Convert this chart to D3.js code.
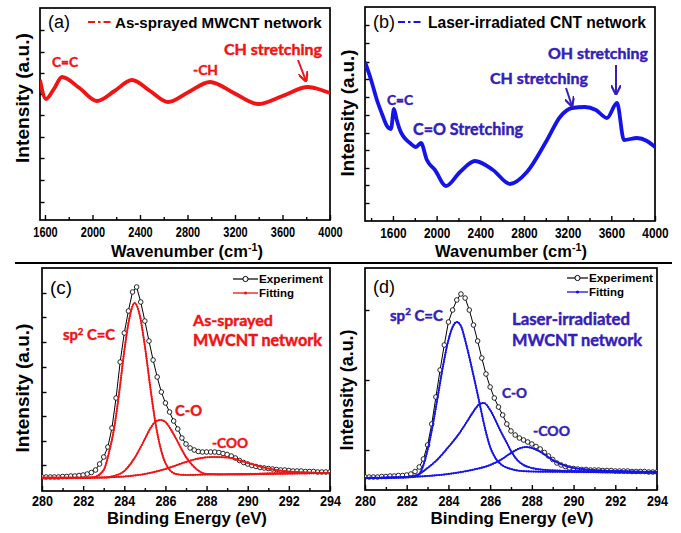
<!DOCTYPE html>
<html><head><meta charset="utf-8">
<script src="https://cdn.jsdelivr.net/npm/d3@7"></script>
<style>body{margin:0;background:#fff} svg{display:block}</style>
</head><body>
<svg id="chart" width="681" height="533"></svg>
<script>
// ---------------- DATA ----------------
// Panel (a): as-sprayed MWCNT network
const ramanA_wavenumber=[1558,1608,1675,1743,1890,2038,2185,2333,2485,2636,2810,2990,3190,3394,3600,3815,3900,3950,4000];
const ramanA_intensity =[140,121,131,143,132,119,129,140,129,118,128,138,127,116,124,133,131,129,127];
// Panel (b): laser-irradiated CNT network
const ramanB_wavenumber=[1344,1400,1453,1500,1545,1582,1609,1635,1664,1756,1811,1856,1911,1985,2086,2214,2351,2516,2672,2827,3011,3130,3240,3359,3459,3560,3652,3716,3835,3927,4000];
const ramanB_intensity =[159,141,121,107,95,92,112,101,91,78,74,78,61,51,35,49,60,51,37,49,81,104,113,114,111,103,118,81,83,80,74];
const wavenumberTicks=[1600,2000,2400,2800,3200,3600,4000];
const wavenumberTickLabels=['1600','2000','2400','2800','3200','3600','4000'];
const wavenumberMinorA=[1800,2200,2600,3000,3400,3800];
const wavenumberMinorB=[1400,1800,2200,2600,3000,3400,3800];

// XPS binding-energy grid for experiment
const xpsEnergy=[280,280.2,280.4,280.6,280.8,281,281.2,281.4,281.6,281.8,282,282.2,282.4,282.6,282.8,283,283.2,283.4,283.6,283.8,284,284.2,284.4,284.6,284.8,285,285.2,285.4,285.6,285.8,286,286.2,286.4,286.6,286.8,287,287.2,287.4,287.6,287.8,288,288.2,288.4,288.6,288.8,289,289.2,289.4,289.6,289.8,290,290.2,290.4,290.6,290.8,291,291.2,291.4,291.6,291.8,292,292.2,292.4,292.6,292.8,293,293.2,293.4,293.6,293.8,294];
const xpsC_experiment=[14,14,14,14,14,14.5,14.5,15,15,15.5,16,17,18.5,21,27,34,44,63,93,129,158,180,199,204,189,170,150,131,114,99,88,79,70,62,53,47,43,41,39.5,39,39,39,39,38.5,37.5,36.5,35,33,30.5,28.5,27,25.5,24.5,23.5,23,22.5,22,21.5,21,21,20.5,20,20,20,19.5,19.5,19.5,19,19,19,19];
const xpsD_experiment=[13,13,13,13,13.5,13.5,14,14,14.5,14.5,15,16,18.5,23,31,45,66,93,120,145,168,180,190,196,192,180,165,149,132,116,103,92,83,75,66,59,55,52,50,48,46,43.5,41,37.5,34,30.5,27,25,23.5,22,21.5,21,20.5,20.5,20,20,20,19.5,19.5,19.5,19,19,19,19,18.5,18.5,18.5,18.5,18,18,18];

// Panel (c) fitted components
const fitC_sp2_energy=[280,282,282.5,283,283.25,283.5,283.75,284,284.25,284.5,284.75,285,285.25,285.5,285.75,286,286.5,287,288,290,292,294];
const fitC_sp2_value =[13,13,13.7,21,38,62,98,140,173,188,176,145,106,70,44,28,17,16,16.5,17,18,18];
const fitC_CO_energy=[280,283,283.5,284,284.5,285,285.25,285.5,285.75,286,286.25,286.5,287,287.5,288,289,291,294];
const fitC_CO_value =[13.5,13.5,15,20,33,52,62,69,71,69,62,53,34,22,17,16.5,17,18];
const fitC_COO_energy=[280,282,283,284,285,286,287,287.5,288.3,289,290,291,292,293,294];
const fitC_COO_value =[12.7,13,13.5,14.5,17,22,29,32,34,33.5,28,22.5,19.5,18.5,18];

// Panel (d) fitted components
const fitD_sp2_energy=[280,282,282.5,282.75,283,283.25,283.5,283.75,284,284.25,284.4,284.6,284.8,285,285.25,285.5,285.75,286,286.25,286.5,287,287.5,288,290,294];
const fitD_sp2_value =[12,12.5,14,22,40,65,95,125,150,165,168,164,150,133,110,86,62,43,32,26,21,19,18.5,18,17];
const fitD_CO_energy=[280,282,282.5,283,283.5,284,284.5,285,285.25,285.5,285.7,286,286.25,286.5,286.8,287,287.3,287.6,288,288.7,290,292,294];
const fitD_CO_value =[12,13,15,22,31,43,56,72,80,86,87,80,70,59,47,39,30,25,22,20,19,18.5,18];
const fitD_COO_energy=[280,282,283,284,285,286,286.5,287,287.4,287.7,288,288.5,289,289.5,290,291,292,294];
const fitD_COO_value =[12,13,14,16,19.5,25,30,37,41.5,43,42,37,30,25,22,20,19,18];

const energyTicks=[280,282,284,286,288,290,292,294];
const energyTickLabels=['280','282','284','286','288','290','292','294'];
const energyMinor=[281,283,285,287,289,291,293];

// ---------------- DRAW ----------------
const svg=d3.select('#chart');
const SANS='"Liberation Sans", Arial, Helvetica, sans-serif';
const ANN='Lato, "Open Sans", "Noto Sans", sans-serif';
const RED='#f01414', BLUE='#1414ea', INDIGO='#3320b8';

function fitText(t,target){
  const len=t.node().getComputedTextLength();
  const fs=parseFloat(t.attr('font-size'));
  if(len>0) t.attr('font-size',(fs*target/len).toFixed(2));
  return t;
}
function addText(parent,o){
  const t=parent.append('text').attr('x',o.x).attr('y',o.y)
    .attr('font-family',o.font||SANS).attr('font-weight',o.weight||'bold')
    .attr('font-size',o.size||16).attr('fill',o.color||'#000')
    .attr('text-anchor',o.anchor||'start');
  if(o.heavy) t.attr('stroke',o.color).attr('stroke-width',o.heavy).attr('stroke-linejoin','round');
  if(o.sup){
    t.append('tspan').text(o.text);
    t.append('tspan').attr('baseline-shift','super').attr('font-size','65%').text(o.sup);
    if(o.after) t.append('tspan').text(o.after);
  } else t.text(o.text);
  if(o.width) fitText(t,o.width);
  return t;
}

svg.append('defs').selectAll('marker').data([['arrR',RED],['arrB',INDIGO]]).join('marker')
  .attr('id',d=>d[0]).attr('viewBox','0 0 10 10').attr('refX',9).attr('refY',5)
  .attr('markerWidth',5).attr('markerHeight',5).attr('orient','auto-start-reverse')
  .append('path').attr('d','M0,0 L10,5 L0,10').attr('fill','none').attr('stroke',d=>d[1]).attr('stroke-width',2.2);

function panel(cfg){
  const x=d3.scaleLinear().domain(cfg.xDomain).range([cfg.left,cfg.right]);
  const y=d3.scaleLinear().domain(cfg.yDomain).range([cfg.bottom,cfg.top]);
  const g=svg.append('g');
  const clipId='clip'+cfg.id;
  g.append('clipPath').attr('id',clipId).append('rect')
    .attr('x',cfg.left).attr('y',cfg.top).attr('width',cfg.right-cfg.left).attr('height',cfg.bottom-cfg.top);
  const axB=g.append('g').attr('transform',`translate(0,${cfg.bottom})`)
    .call(d3.axisBottom(x).tickValues(cfg.xMajor).tickSizeInner(-5).tickSizeOuter(0)
      .tickFormat(d=>cfg.xLabels[cfg.xMajor.indexOf(d)]));
  axB.select('.domain').remove();
  axB.selectAll('line').attr('stroke','#000').attr('stroke-width',1.4);
  // condensed bold tick labels (compressed to the reference's narrow look)
  axB.selectAll('text').attr('dy',null).attr('y',cfg.tickLabelOffset)
    .attr('font-family',SANS).attr('font-weight','bold').attr('font-size',14.5).attr('fill','#000')
    .attr('textLength',d=>String(d).length*cfg.digitW).attr('lengthAdjust','spacingAndGlyphs');
  const axBm=g.append('g').attr('transform',`translate(0,${cfg.bottom})`)
    .call(d3.axisBottom(x).tickValues(cfg.xMinor).tickSizeInner(-3).tickSizeOuter(0).tickFormat(''));
  axBm.select('.domain').remove();
  axBm.selectAll('line').attr('stroke','#000').attr('stroke-width',1.4);
  const axL=g.append('g').attr('transform',`translate(${cfg.left},0)`)
    .call(d3.axisLeft(y).tickValues(cfg.yTicks).tickSizeInner(-4.5).tickSizeOuter(0).tickFormat(''));
  axL.select('.domain').remove();
  axL.selectAll('line').attr('stroke','#000').attr('stroke-width',1.4);
  g.append('rect').attr('x',cfg.left).attr('y',cfg.top).attr('width',cfg.right-cfg.left)
    .attr('height',cfg.bottom-cfg.top).attr('fill','none').attr('stroke','#000').attr('stroke-width',1.7);
  const plot=g.append('g').attr('clip-path',`url(#${clipId})`);
  return {x,y,g,plot};
}

// --- Panel (a)
const pa=panel({id:'a',xDomain:[1558,4000],yDomain:[0,212],left:40,right:330,top:8,bottom:220,
  xMajor:wavenumberTicks,xMinor:wavenumberMinorA,xLabels:wavenumberTickLabels,digitW:6.1,
  yTicks:[18,40,62,83,105,126,147,168,190],tickLabelOffset:17});
pa.plot.append('path').datum(ramanA_wavenumber.map((w,i)=>[w,ramanA_intensity[i]]))
  .attr('d',d3.line().x(d=>pa.x(d[0])).y(d=>pa.y(d[1])).curve(d3.curveMonotoneX))
  .attr('fill','none').attr('stroke',RED).attr('stroke-width',3.8).attr('stroke-linejoin','round');

// --- Panel (b)
const pb=panel({id:'b',xDomain:[1344,4000],yDomain:[0,214],left:365,right:655,top:7,bottom:221,
  xMajor:wavenumberTicks,xMinor:wavenumberMinorB,xLabels:wavenumberTickLabels,digitW:6.6,
  yTicks:[18,36,53,71,88,106,124,142,159,178,196],tickLabelOffset:17});
pb.plot.append('path').datum(ramanB_wavenumber.map((w,i)=>[w,ramanB_intensity[i]]))
  .attr('d',d3.line().x(d=>pb.x(d[0])).y(d=>pb.y(d[1])).curve(d3.curveMonotoneX))
  .attr('fill','none').attr('stroke',BLUE).attr('stroke-width',3.8).attr('stroke-linejoin','round');

// --- Panel (c) and (d)
const pc=panel({id:'c',xDomain:[280,294],yDomain:[0,223],left:42,right:330,top:268,bottom:491,
  xMajor:energyTicks,xMinor:energyMinor,xLabels:energyTickLabels,digitW:7,
  yTicks:[26,50,75,99,124,149,174,198],tickLabelOffset:15});
const pd=panel({id:'d',xDomain:[280,294],yDomain:[0,222],left:365,right:657,top:268,bottom:490,
  xMajor:energyTicks,xMinor:energyMinor,xLabels:energyTickLabels,digitW:7,
  yTicks:[40,110,180],tickLabelOffset:16});

function drawFit(p,energy,value,color){
  const path=p.plot.append('path').datum(energy.map((e,i)=>[e,value[i]]))
    .attr('d',d3.line().x(d=>p.x(d[0])).y(d=>p.y(d[1])).curve(d3.curveMonotoneX))
    .attr('fill','none').attr('stroke',color).attr('stroke-width',1.5);
  const node=path.node(), L=node.getTotalLength(), pts=[];
  for(let s=0;s<=L;s+=2.4){pts.push(node.getPointAtLength(s));}
  p.plot.append('g').selectAll('circle').data(pts).join('circle')
    .attr('cx',d=>d.x).attr('cy',d=>d.y).attr('r',1.1).attr('fill',color);
}
function drawExp(p,energy,value){
  const data=energy.map((e,i)=>[e,value[i]]);
  p.plot.append('path').datum(data)
    .attr('d',d3.line().x(d=>p.x(d[0])).y(d=>p.y(d[1])))
    .attr('fill','none').attr('stroke','#000').attr('stroke-width',1);
  p.plot.append('g').selectAll('circle').data(data).join('circle')
    .attr('cx',d=>p.x(d[0])).attr('cy',d=>p.y(d[1])).attr('r',2.3)
    .attr('fill','#fff').attr('stroke','#111').attr('stroke-width',0.9);
}
drawExp(pc,xpsEnergy,xpsC_experiment);
drawFit(pc,fitC_COO_energy,fitC_COO_value,RED);
drawFit(pc,fitC_CO_energy,fitC_CO_value,RED);
drawFit(pc,fitC_sp2_energy,fitC_sp2_value,RED);
drawExp(pd,xpsEnergy,xpsD_experiment);
drawFit(pd,fitD_COO_energy,fitD_COO_value,BLUE);
drawFit(pd,fitD_CO_energy,fitD_CO_value,BLUE);
drawFit(pd,fitD_sp2_energy,fitD_sp2_value,BLUE);

// divider line
svg.append('line').attr('x1',15).attr('x2',672).attr('y1',263).attr('y2',263).attr('stroke','#000').attr('stroke-width',2);

// ---------- Texts ----------
const T=svg.append('g');
[['(a)',48,28],['(b)',373,28],['(c)',50,294],['(d)',373,293]].forEach(d=>
  addText(T,{text:d[0],x:d[1],y:d[2],weight:'normal',size:18,width:22}));
function dashLegend(x1,x2,yy,color){
  T.append('line').attr('x1',x1).attr('x2',x2).attr('y1',yy).attr('y2',yy).attr('stroke',color)
   .attr('stroke-width',2).attr('stroke-dasharray','7,3,2.5,3,7');
}
dashLegend(88,113,22,RED);
addText(T,{text:'As-sprayed MWCNT network',x:115,y:28,size:15,width:207});
dashLegend(398,425,22,BLUE);
addText(T,{text:'Laser-irradiated CNT network',x:428,y:28,size:15,width:218});

function xpsLegend(x1,x2,y1,y2,color){
  T.append('line').attr('x1',x1).attr('x2',x2).attr('y1',y1).attr('y2',y1).attr('stroke','#000').attr('stroke-width',1.2);
  T.append('circle').attr('cx',(x1+x2)/2).attr('cy',y1).attr('r',2.6).attr('fill','#fff').attr('stroke','#000').attr('stroke-width',1);
  T.append('line').attr('x1',x1).attr('x2',x2).attr('y1',y2).attr('y2',y2).attr('stroke',color).attr('stroke-width',1.3);
  T.append('circle').attr('cx',(x1+x2)/2).attr('cy',y2).attr('r',1.6).attr('fill',color);
  addText(T,{text:'Experiment',x:x2+1,y:y1+4,size:12,width:64});
  addText(T,{text:'Fitting',x:x2+1,y:y2+4,size:12,width:35});
}
xpsLegend(233,258,279,293,RED);
xpsLegend(567,588,278,292,BLUE);

function xTitle(cx,yy,html,w){
  const t=T.append('text').attr('x',cx).attr('y',yy).attr('text-anchor','middle')
    .attr('font-family',SANS).attr('font-weight','bold').attr('font-size',16.5).attr('fill','#000');
  html(t); fitText(t,w);
}
const waveTitle=t=>{t.append('tspan').text('Wavenumber (cm');t.append('tspan').attr('baseline-shift','super').attr('font-size','65%').text('-1');t.append('tspan').text(')');};
xTitle(187,257,waveTitle,152);
xTitle(511,257,waveTitle,152);
xTitle(187,524,t=>t.text('Binding Energy (eV)'),160);
xTitle(512,524,t=>t.text('Binding Energy (eV)'),163);
function yTitle(bx,cy,w){
  const t=T.append('text').attr('transform',`translate(${bx},${cy}) rotate(-90)`).attr('text-anchor','middle')
    .attr('font-family',SANS).attr('font-weight','bold').attr('font-size',18).attr('fill','#000').text('Intensity (a.u.)');
  fitText(t,w);
}
yTitle(29,98,130); yTitle(354,113,127); yTitle(29,388,129); yTitle(353,390,121);

const HV=0.45;
// annotations (a)
addText(T,{text:'C=C',x:52,y:67,font:ANN,color:RED,size:16,width:26,heavy:HV});
addText(T,{text:'-CH',x:193,y:75,font:ANN,color:RED,size:16,width:25,heavy:HV});
addText(T,{text:'CH stretching',x:224,y:55,font:ANN,color:RED,size:16,width:98,heavy:HV});
T.append('line').attr('x1',298).attr('y1',60).attr('x2',306).attr('y2',81).attr('stroke',RED).attr('stroke-width',2).attr('marker-end','url(#arrR)');
// annotations (b)
addText(T,{text:'C=C',x:387,y:105,font:ANN,color:INDIGO,size:16,width:26,heavy:HV});
addText(T,{text:'C=O Stretching',x:413,y:135,font:ANN,color:INDIGO,size:16,width:110,heavy:HV});
addText(T,{text:'CH stretching',x:490,y:84,font:ANN,color:INDIGO,size:16,width:98,heavy:HV});
addText(T,{text:'OH stretching',x:548,y:59,font:ANN,color:INDIGO,size:16,width:100,heavy:HV});
T.append('line').attr('x1',566).attr('y1',88).attr('x2',572).attr('y2',106).attr('stroke',INDIGO).attr('stroke-width',2).attr('marker-end','url(#arrB)');
T.append('line').attr('x1',616).attr('y1',65).attr('x2',616).attr('y2',94).attr('stroke',INDIGO).attr('stroke-width',2).attr('marker-end','url(#arrB)');
// annotations (c)
addText(T,{text:'sp',sup:'2',after:' C=C',x:63,y:340,font:ANN,color:RED,size:16,width:52,heavy:HV});
addText(T,{text:'As-sprayed',x:193,y:326,font:ANN,color:RED,size:17,width:80,heavy:HV});
addText(T,{text:'MWCNT network',x:193,y:346,font:ANN,color:RED,size:17,width:129,heavy:HV});
addText(T,{text:'C-O',x:175,y:416,font:ANN,color:RED,size:16,width:27,heavy:HV});
addText(T,{text:'-COO',x:212,y:448,font:ANN,color:RED,size:16,width:36,heavy:HV});
// annotations (d)
addText(T,{text:'sp',sup:'2',after:' C=C',x:390,y:321,font:ANN,color:INDIGO,size:16,width:53,heavy:HV});
addText(T,{text:'Laser-irradiated',x:512,y:325,font:ANN,color:INDIGO,size:17,width:118,heavy:HV});
addText(T,{text:'MWCNT network',x:512,y:346,font:ANN,color:INDIGO,size:17,width:130,heavy:HV});
addText(T,{text:'C-O',x:502,y:398,font:ANN,color:INDIGO,size:16,width:25,heavy:HV});
addText(T,{text:'-COO',x:533,y:436,font:ANN,color:INDIGO,size:16,width:37,heavy:HV});
</script>
</body></html>
